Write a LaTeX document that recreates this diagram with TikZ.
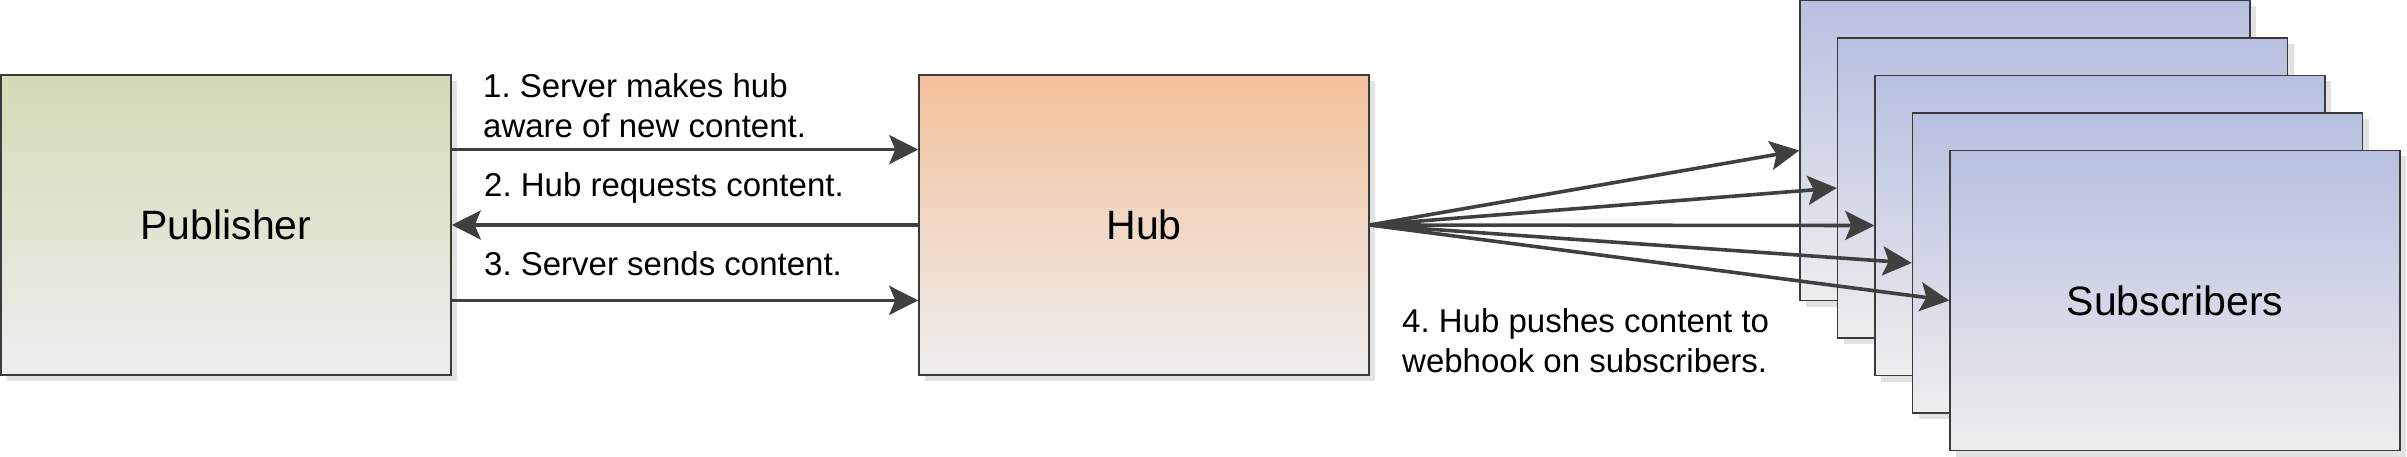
\documentclass[tikz,border=0pt]{standalone}
\usepackage{fontspec}
\setmainfont{Liberation Sans}
\frenchspacing
\usetikzlibrary{arrows.meta,shadows,calc}
\definecolor{edgec}{HTML}{404040}
\definecolor{boxline}{HTML}{3A3A3A}
\definecolor{shadowc}{HTML}{E2E2E2}
\definecolor{pubtop}{HTML}{D2DBB5}
\definecolor{hubtop}{HTML}{F3C19B}
\definecolor{subtop}{HTML}{B7C0E0}
\definecolor{botc}{HTML}{EEEEEE}
\begin{document}
\begin{tikzpicture}[x=1pt,y=-1pt,
  box/.style={rectangle, draw=boxline, line width=1.5pt,
    minimum width=450pt, minimum height=300pt, inner sep=0pt,
    font=\fontsize{41}{49}\selectfont, bottom color=botc,
    drop shadow={shadow xshift=6pt,shadow yshift=-6pt,fill=shadowc,opacity=1}},
  pubbox/.style={box, top color=pubtop},
  hubbox/.style={box, top color=hubtop},
  subbox/.style={box, top color=subtop},
  lbl/.style={inner sep=0pt, anchor=base west, font=\fontsize{33}{40}\selectfont},
  arr/.style={draw=edgec, line width=3.6pt,
    -{Stealth[length=29pt,width=29pt,inset=6pt]}}
]
\useasboundingbox (0,0) rectangle (2407,457);

\node[pubbox] (pub) at (226,225) {Publisher};
\node[hubbox] (hub) at (1144,225) {Hub};

\node[subbox] (s1) at (2025,150.5) {};
\node[subbox] (s2) at (2062.5,188) {};
\node[subbox] (s3) at (2100,225.5) {};
\node[subbox] (s4) at (2137.5,263) {};
\node[subbox] (s5) at (2175,300.5) {Subscribers};

\draw[arr] ($(pub.north east)!.25!(pub.south east)$) -- ($(hub.north west)!.25!(hub.south west)$);
\draw[arr] (hub.west) -- (pub.east);
\draw[arr] ($(pub.north east)!.75!(pub.south east)$) -- ($(hub.north west)!.75!(hub.south west)$);

\foreach \s in {s1,s2,s3,s4,s5} {
  \draw[arr] (hub.east) -- (\s.west);
}

\node[lbl] (l1) at (483,98) {\begin{tabular}[t]{@{}l@{}}1. Server makes hub\\aware of new content.\end{tabular}};
\node[lbl] (l2) at (484,197) {2. Hub requests content.};
\node[lbl] (l3) at (484,275) {3. Server sends content.};
\node[lbl] (l4) at (1402,332) {\begin{tabular}[t]{@{}l@{}}4. Hub pushes content to\\webhook on subscribers.\end{tabular}};
\end{tikzpicture}
\end{document}
